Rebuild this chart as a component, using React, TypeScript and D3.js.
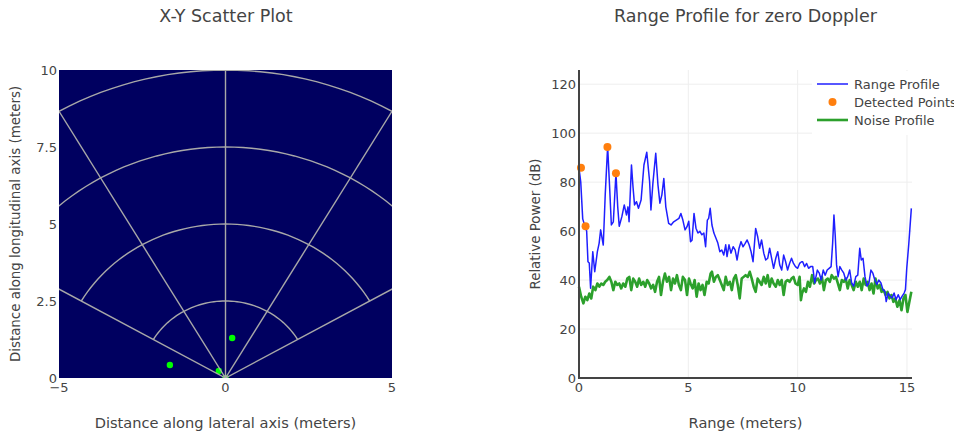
import React from "react";
import * as d3 from "d3";

// detected objects in the x-y plane (meters)
const scatterX = [-1.67, -0.2, 0.2, 0];
const scatterY = [0.42, 0.23, 1.3, 0];

const ringRadii = [2.5, 5, 7.5, 10];
const spokeAngles = [-60, -30, 0, 30, 60];
const xyTicksX = [-5, 0, 5];
const xyTicksY = [0, 2.5, 5, 7.5, 10];

// range profile, [range m, dB]
const rangeProfile: [number, number][] = [
  [0, 85.7], [0.08, 80], [0.17, 65], [0.27, 62], [0.35, 60], [0.41, 47.5], [0.47, 47],
  [0.53, 36.7], [0.63, 51.6], [0.72, 43.4], [0.84, 51.6], [0.92, 55], [0.99, 60.5],
  [1.11, 54.3], [1.2, 75], [1.31, 94.5], [1.4, 78], [1.48, 62.5], [1.57, 63.8], [1.69, 83.6],
  [1.77, 70], [1.84, 62], [1.96, 65.9], [2.07, 70.7], [2.17, 66.6], [2.24, 69.9], [2.29, 63.8],
  [2.4, 87], [2.47, 78], [2.54, 70.7], [2.63, 72], [2.72, 69.3], [2.84, 72.7], [2.97, 87],
  [3.1, 92.2], [3.23, 80.2], [3.29, 68.6], [3.38, 79.6], [3.51, 91.8], [3.61, 79], [3.7, 71.4],
  [3.79, 74.8], [3.88, 81.5], [3.97, 69.9], [4.1, 63.2], [4.21, 62.5], [4.33, 63.8], [4.45, 64.5],
  [4.57, 65.2], [4.66, 67.2], [4.75, 64.5], [4.85, 60.5], [4.94, 61.8], [5.02, 64], [5.1, 55.7],
  [5.17, 56.3], [5.26, 67.2], [5.35, 61.2], [5.44, 59.2], [5.53, 59.9], [5.62, 58.5], [5.71, 59.2],
  [5.79, 53.6], [5.87, 64.5], [5.93, 65.2], [6.0, 69.3], [6.08, 62.5], [6.17, 59.2], [6.26, 57.2],
  [6.35, 55.1], [6.44, 51.6], [6.53, 52.3], [6.62, 50.2], [6.71, 54.4], [6.77, 49.6], [6.86, 54.4],
  [6.95, 51], [7.05, 53.6], [7.14, 52.3], [7.23, 48.2], [7.32, 53], [7.41, 55.7], [7.5, 53.6],
  [7.6, 55], [7.69, 56.4], [7.78, 54.4], [7.87, 51.6], [7.96, 47.5], [8.08, 61.1], [8.17, 57.8],
  [8.26, 53], [8.35, 56.4], [8.45, 51], [8.54, 48.2], [8.63, 48.9], [8.72, 53], [8.81, 48.9],
  [8.9, 44.8], [9.0, 48.9], [9.09, 51.6], [9.18, 46.2], [9.27, 44.1], [9.36, 50.2], [9.45, 47.5],
  [9.54, 44.1], [9.63, 46.8], [9.72, 48.9], [9.81, 46.8], [9.9, 45.5], [10.0, 44.8], [10.09, 46.8],
  [10.18, 47.5], [10.23, 47.5], [10.32, 45.5], [10.41, 46.8], [10.5, 44.8], [10.59, 45.5],
  [10.69, 45.5], [10.78, 38.8], [10.9, 44.1], [10.99, 42.8], [11.08, 40], [11.17, 44.1], [11.26, 42],
  [11.35, 44.1], [11.44, 44.8], [11.53, 45.5], [11.6, 55], [11.66, 66.6], [11.72, 58], [11.78, 46.2],
  [11.85, 41.4], [11.93, 45.5], [12.02, 44.1], [12.11, 42.8], [12.2, 40], [12.29, 41.4], [12.38, 44.1],
  [12.47, 38.8], [12.56, 37.5], [12.66, 41.4], [12.75, 42], [12.84, 53], [12.91, 48.2], [12.99, 48.9],
  [13.08, 41.4], [13.17, 37.5], [13.26, 38.8], [13.35, 44.1], [13.44, 42.8], [13.53, 40], [13.62, 38.2],
  [13.71, 40], [13.81, 38.8], [13.9, 36.1], [13.99, 35.4], [14.05, 31.2], [14.14, 34.7], [14.23, 33.4],
  [14.32, 32.7], [14.41, 34.7], [14.5, 32], [14.6, 34], [14.69, 32], [14.78, 33.4], [14.87, 34.7],
  [14.93, 36.1], [14.99, 44.8], [15.08, 54.4], [15.2, 69.3],
];

// noise profile, [range m, dB]
const noiseProfile: [number, number][] = [
  [0, 37.3], [0.1, 33.2], [0.2, 30.5], [0.29, 33.2], [0.38, 31.8], [0.47, 34.5], [0.56, 32.5],
  [0.65, 37.3], [0.75, 35.9], [0.84, 38.6], [0.93, 37.3], [1.02, 38.6], [1.11, 38], [1.2, 39.3],
  [1.29, 40], [1.39, 41.3], [1.48, 39.3], [1.57, 35.9], [1.66, 39.3], [1.75, 38], [1.84, 38.6],
  [1.93, 36.6], [2.02, 38.6], [2.12, 37.3], [2.21, 40.6], [2.3, 41.3], [2.39, 35.9], [2.48, 40.6],
  [2.57, 39.3], [2.66, 37.3], [2.75, 40.6], [2.84, 38], [2.94, 39.3], [3.03, 37.3], [3.12, 40],
  [3.21, 38.6], [3.3, 36.6], [3.39, 38], [3.48, 35.2], [3.57, 39.3], [3.66, 41.3], [3.75, 33.9],
  [3.84, 39.3], [3.93, 42.7], [4.02, 39.3], [4.12, 41.3], [4.21, 35.9], [4.3, 40.6], [4.39, 38.6],
  [4.48, 42], [4.57, 38], [4.66, 35.9], [4.75, 41.3], [4.85, 40], [4.94, 33.9], [5.03, 40.6],
  [5.1, 38.6], [5.2, 36.6], [5.29, 40], [5.38, 33.2], [5.47, 38.6], [5.56, 35.9], [5.65, 38],
  [5.74, 33.9], [5.84, 39.3], [5.93, 38.6], [6.02, 42.7], [6.08, 43.4], [6.17, 39.3], [6.26, 41.3],
  [6.35, 42], [6.44, 40], [6.53, 38], [6.62, 35.9], [6.71, 41.3], [6.8, 38], [6.9, 39.3],
  [6.99, 35.9], [7.08, 40.6], [7.17, 42], [7.26, 38], [7.35, 32.5], [7.44, 40.6], [7.53, 41.3],
  [7.62, 42], [7.72, 41.3], [7.81, 43.4], [7.9, 40.6], [7.99, 37.3], [8.08, 35.2], [8.17, 40.6],
  [8.26, 39.3], [8.35, 38], [8.45, 41.3], [8.54, 38.6], [8.63, 42], [8.72, 37.3], [8.81, 40.6],
  [8.9, 38.6], [9.0, 37.3], [9.09, 40], [9.18, 38], [9.27, 40], [9.36, 33.9], [9.45, 39.3],
  [9.54, 40], [9.63, 39.3], [9.72, 40.6], [9.81, 41.3], [9.9, 38.6], [10.0, 38], [10.09, 41.3],
  [10.15, 31.8], [10.2, 34.5], [10.29, 36.6], [10.38, 35.2], [10.47, 39.3], [10.56, 37.3],
  [10.66, 42], [10.75, 38.6], [10.84, 40], [10.93, 40.6], [11.02, 38.6], [11.11, 41.3], [11.2, 35.9],
  [11.29, 40], [11.38, 40.6], [11.47, 39.3], [11.56, 42], [11.66, 40.6], [11.75, 41.3], [11.84, 38.6],
  [11.93, 35.9], [12.02, 40], [12.11, 39.3], [12.2, 40.6], [12.29, 36.6], [12.38, 40], [12.47, 38],
  [12.56, 35.9], [12.66, 39.3], [12.75, 37.3], [12.84, 39.3], [12.93, 35.9], [13.02, 40.6],
  [13.11, 38], [13.2, 39.3], [13.29, 35.9], [13.38, 38.6], [13.47, 34.5], [13.56, 40.6], [13.66, 36.6],
  [13.75, 38], [13.84, 35.2], [13.93, 35.9], [14.02, 33.9], [14.11, 35.2], [14.2, 32.5], [14.29, 33.9],
  [14.38, 31.1], [14.47, 32.5], [14.56, 29.1], [14.66, 31.8], [14.75, 27.7], [14.84, 32.5],
  [14.93, 33.9], [15.02, 27], [15.11, 31.1], [15.2, 35.2],
];

const detectedX = [0.09, 0.3, 1.3, 1.69];
const detectedY = [85.9, 62, 94.4, 83.6];

const rangeTicksX = [0, 5, 10, 15];
const rangeTicksY = [0, 20, 40, 60, 80, 100, 120];
const legendNames = ["Range Profile", "Detected Points", "Noise Profile"];

const font = "'DejaVu Sans', Verdana, sans-serif";
const textColor = "#444";

function XYPlot() {
  const x = d3.scaleLinear().domain([-5, 5]).range([59, 392]);
  const y = d3.scaleLinear().domain([0, 10]).range([378, 70]);
  const line = d3.line<[number, number]>().x((d) => x(d[0])).y((d) => y(d[1]));
  const rad = (a: number) => (a * Math.PI) / 180;

  const rings = ringRadii.map((r) =>
    line(d3.range(-60, 60.5, 2).map((a) => [r * Math.sin(rad(a)), r * Math.cos(rad(a))] as [number, number]))
  );
  const spokes = spokeAngles.map((a) =>
    line([[0, 0], [14 * Math.sin(rad(a)), 14 * Math.cos(rad(a))]])
  );

  return (
    <g>
      <defs>
        <clipPath id="xyclip">
          <rect x={59} y={70} width={333} height={308} />
        </clipPath>
      </defs>
      <text x={226} y={22} textAnchor="middle" fontSize={17.5} fill={textColor}>X-Y Scatter Plot</text>
      <rect x={59} y={70} width={333} height={308} fill="#000060" />
      <g clipPath="url(#xyclip)">
        {scatterX.map((d, i) => (
          <circle key={i} cx={x(d)} cy={y(scatterY[i])} r={3.2} fill="#00ff00" />
        ))}
        {rings.map((p, i) => (
          <path key={"r" + i} d={p || ""} fill="none" stroke="#a8a8a8" strokeWidth={1.4} />
        ))}
        {spokes.map((p, i) => (
          <path key={"s" + i} d={p || ""} fill="none" stroke="#a8a8a8" strokeWidth={1.4} />
        ))}
      </g>
      {xyTicksY.map((t) => (
        <text key={t} x={57} y={y(t)} dy="0.35em" textAnchor="end" fontSize={13} fill={textColor}>{t}</text>
      ))}
      {xyTicksX.map((t) => (
        <text key={t} x={x(t)} y={392} textAnchor="middle" fontSize={13} fill={textColor}>
          {t < 0 ? "\u2212" + Math.abs(t) : t}
        </text>
      ))}
      <text x={225.5} y={428} textAnchor="middle" fontSize={14.6} fill={textColor}>
        Distance along lateral axis (meters)
      </text>
      <text transform="translate(20,224) rotate(-90)" textAnchor="middle" fontSize={13.4} fill={textColor}>
        Distance along longitudinal axis (meters)
      </text>
    </g>
  );
}

function RangePlot() {
  const x = d3.scaleLinear().domain([0, 15.23]).range([579, 912]);
  const y = d3.scaleLinear().domain([0, 125.8]).range([378, 70]);
  const line = d3.line<[number, number]>().x((d) => x(d[0])).y((d) => y(d[1]));

  return (
    <g>
      <text x={745.5} y={22} textAnchor="middle" fontSize={17.5} fill={textColor}>Range Profile for zero Doppler</text>
      {rangeTicksY.slice(1).map((t) => (
        <line key={t} x1={579} x2={912} y1={y(t)} y2={y(t)} stroke="#eee" strokeWidth={1} />
      ))}
      {rangeTicksX.slice(1).map((t) => (
        <line key={t} x1={x(t)} x2={x(t)} y1={70} y2={378} stroke="#eee" strokeWidth={1} />
      ))}
      <path d={line(noiseProfile) || ""} fill="none" stroke="#2ca02c" strokeWidth={2.6} strokeLinejoin="round" />
      <path d={line(rangeProfile) || ""} fill="none" stroke="#1f1fff" strokeWidth={1.5} strokeLinejoin="round" />
      {detectedX.map((d, i) => (
        <circle key={i} cx={x(d)} cy={y(detectedY[i])} r={4} fill="#ff7f0e" />
      ))}
      <line x1={579} x2={579} y1={70} y2={379} stroke="#444" strokeWidth={2} />
      <line x1={578} x2={912} y1={378} y2={378} stroke="#444" strokeWidth={2} />
      {rangeTicksY.map((t) => (
        <text key={t} x={576} y={y(t)} dy="0.35em" textAnchor="end" fontSize={13} fill={textColor}>{t}</text>
      ))}
      {rangeTicksX.map((t) => (
        <text key={t} x={x(t)} y={392} textAnchor="middle" fontSize={13} fill={textColor}>{t}</text>
      ))}
      <text x={745.5} y={428} textAnchor="middle" fontSize={14.6} fill={textColor}>Range (meters)</text>
      <text transform="translate(540,224) rotate(-90)" textAnchor="middle" fontSize={13.4} fill={textColor}>
        Relative Power (dB)
      </text>
      <g>
        <rect x={812} y={71} width={142} height={64} fill="#fff" />
        {legendNames.map((name, i) => {
          const ly = 84 + i * 18;
          return (
            <g key={name}>
              {i === 1 ? (
                <circle cx={832.5} cy={ly} r={4} fill="#ff7f0e" />
              ) : (
                <line x1={817} x2={848} y1={ly} y2={ly} stroke={i === 0 ? "#1f1fff" : "#2ca02c"} strokeWidth={i === 0 ? 1.5 : 2.6} />
              )}
              <text x={854} y={ly} dy="0.35em" fontSize={13} fill={textColor}>{name}</text>
            </g>
          );
        })}
      </g>
    </g>
  );
}

export default function App() {
  return (
    <svg
      width={954}
      height={436}
      style={{ position: "absolute", left: 0, top: 0, background: "#fff", fontFamily: font }}
    >
      <XYPlot />
      <RangePlot />
    </svg>
  );
}
